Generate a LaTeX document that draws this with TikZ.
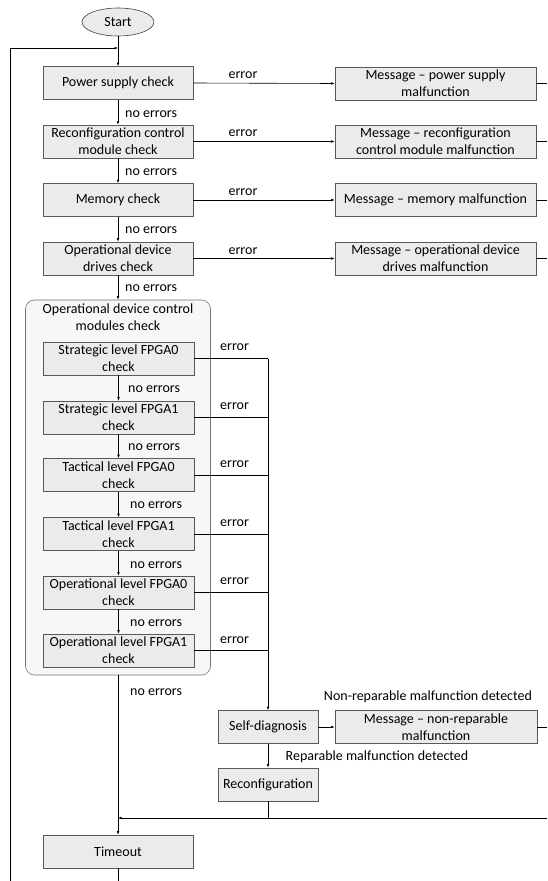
\documentclass[tikz,border=0pt]{standalone}
\usepackage{fontspec}
\setmainfont{Carlito}
\usetikzlibrary{arrows.meta,shadows,shapes.geometric}
\begin{document}
\begin{tikzpicture}[x=1pt,y=-1pt,
  font=\fontsize{14}{17}\selectfont,
  box/.style={draw=black!65, fill=black!8, line width=0.6pt, align=center, inner sep=1pt,
    minimum height=33pt, minimum width=150pt,
    drop shadow={shadow xshift=0.8pt,shadow yshift=-0.8pt,fill=black!40}},
  msg/.style={box, minimum width=201pt},
  small/.style={box, minimum width=100pt},
  ell/.style={ellipse, draw=black!75, fill=black!8, line width=0.6pt, minimum width=72pt, minimum height=28pt, inner sep=0pt},
  cont/.style={draw=black!55, fill=black!3, rounded corners=9pt, line width=0.6pt, minimum width=185pt, minimum height=375pt},
  lbl/.style={inner sep=0pt},
  line/.style={draw=black, line width=0.6pt},
  arr/.style={line, -{Latex[length=3.5pt,width=2.6pt]}}]
\useasboundingbox (0,0) rectangle (547,881);

% start and top loop
\node[ell] (start) at (118,22) {Start};
\node[box] (ps) at (118,83) {Power supply check};
\node[box] (rcm) at (118,141.5) {Reconfiguration control\\module check};
\node[box] (mem) at (118,200) {Memory check};
\node[box] (odd) at (118,258.5) {Operational device\\drives check};

\node[msg] (m1) at (435.5,83.5) {Message -- power supply\\malfunction};
\node[msg] (m2) at (435.5,141.5) {Message -- reconfiguration\\control module malfunction};
\node[msg] (m3) at (435.5,200) {Message -- memory malfunction};
\node[msg] (m4) at (435.5,258.5) {Message -- operational device\\drives malfunction};

% container
\node[cont] (cont) at (118,487.5) {};
\node[lbl, align=center] (ctitle) at (118,317) {Operational device control\\modules check};
\node[box, minimum width=151pt] (fa0) at (118.5,358.5) {Strategic level FPGA0\\check};
\node[box, minimum width=151pt] (fa1) at (118.5,417.5) {Strategic level FPGA1\\check};
\node[box, minimum width=151pt] (fb0) at (118.5,475) {Tactical level FPGA0\\check};
\node[box, minimum width=151pt] (fb1) at (118.5,534) {Tactical level FPGA1\\check};
\node[box, minimum width=151pt] (fc0) at (118.5,592.5) {Operational level FPGA0\\check};
\node[box, minimum width=151pt] (fc1) at (118.5,650.5) {Operational level FPGA1\\check};

\node[small] (sd) at (268,727) {Self-diagnosis};
\node[msg, minimum width=202pt] (m5) at (436,727) {Message -- non-reparable\\malfunction};
\node[small] (rc) at (268,784.5) {Reconfiguration};
\node[box] (tout) at (118,851.5) {Timeout};

% coordinates
\coordinate (ltop) at (10,48);
\coordinate (lbot) at (10,881);
\coordinate (lin) at (118,48);
\coordinate (tbot) at (118,881);
\coordinate (bus) at (268,358.5);
\coordinate (jr) at (547,818);
\coordinate (jl) at (118,818);
\coordinate (r1) at (547,83.5);
\coordinate (r2) at (547,141.5);
\coordinate (r3) at (547,200);
\coordinate (r4) at (547,258.5);
\coordinate (r5) at (547,727);

% main flow
\draw[arr] (start.south) -- (ps.north);
\draw[arr] (lbot) -- (ltop) -- (lin);
\draw[arr] (ps.south) -- (rcm.north);
\draw[arr] (rcm.south) -- (mem.north);
\draw[arr] (mem.south) -- (odd.north);
\draw[arr] (odd.south) -- (cont.north);
\draw[arr] (fa0.south) -- (fa1.north);
\draw[arr] (fa1.south) -- (fb0.north);
\draw[arr] (fb0.south) -- (fb1.north);
\draw[arr] (fb1.south) -- (fc0.north);
\draw[arr] (fc0.south) -- (fc1.north);
\draw[arr] (cont.south) -- (tout.north);
\draw[line] (tout.south) -- (tbot);

% error branches
\draw[arr] (ps.east) -- (m1.west);
\draw[arr] (rcm.east) -- (m2.west);
\draw[arr] (mem.east) -- (m3.west);
\draw[arr] (odd.east) -- (m4.west);
\draw[line] (m1.east) -- (r1);
\draw[line] (m2.east) -- (r2);
\draw[line] (m3.east) -- (r3);
\draw[line] (m4.east) -- (r4);

\draw[line] (fa0.east) -- (bus);
\draw[line] (fa1.east) -- (fa1.east -| bus);
\draw[line] (fb0.east) -- (fb0.east -| bus);
\draw[line] (fb1.east) -- (fb1.east -| bus);
\draw[line] (fc0.east) -- (fc0.east -| bus);
\draw[line] (fc1.east) -- (fc1.east -| bus);
\draw[arr] (bus) -- (sd.north);
\draw[arr] (sd.east) -- (m5.west);
\draw[line] (m5.east) -- (r5);
\draw[arr] (sd.south) -- (rc.north);
\draw[line] (rc.south) -- (rc.south |- jl);
\draw[arr] (jr) -- (jl);

% labels
\node[lbl] (e1) at (243,75) {error};
\node[lbl] (e2) at (243,133) {error};
\node[lbl] (e3) at (243,192) {error};
\node[lbl] (e4) at (243,251) {error};
\node[lbl, anchor=west] (n1) at (125,114) {no errors};
\node[lbl, anchor=west] (n2) at (125,172) {no errors};
\node[lbl, anchor=west] (n3) at (125,230) {no errors};
\node[lbl, anchor=west] (n4) at (125,288) {no errors};

\node[lbl, anchor=west] (fe1) at (220,347) {error};
\node[lbl, anchor=west] (fe2) at (220,406) {error};
\node[lbl, anchor=west] (fe3) at (220,464) {error};
\node[lbl, anchor=west] (fe4) at (220,523) {error};
\node[lbl, anchor=west] (fe5) at (220,581) {error};
\node[lbl, anchor=west] (fe6) at (220,640) {error};
\node[lbl, anchor=west] (fn1) at (128,389) {no errors};
\node[lbl, anchor=west] (fn2) at (128,447) {no errors};
\node[lbl, anchor=west] (fn3) at (130,505) {no errors};
\node[lbl, anchor=west] (fn4) at (130,565) {no errors};
\node[lbl, anchor=west] (fn5) at (130,623) {no errors};
\node[lbl, anchor=west] (n5) at (130,692) {no errors};

\node[lbl] (nr) at (428,697) {Non-reparable malfunction detected};
\node[lbl] (rp) at (377,757) {Reparable malfunction detected};
\end{tikzpicture}
\end{document}
